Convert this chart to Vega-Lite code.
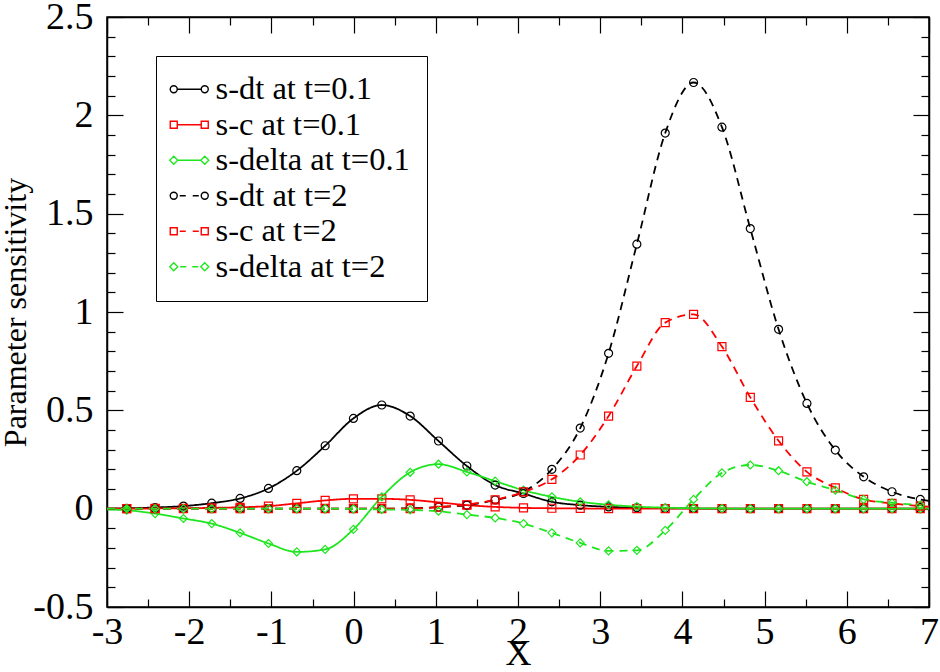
{
"$schema": "https://vega.github.io/schema/vega-lite/v6.json",
"width": 822, "height": 590,
"autosize": {"type": "none"},
"padding": {"left": 107, "top": 17, "right": 11, "bottom": 65},
"background": "white",
"config": {"view": {"stroke": "black", "strokeWidth": 1.5}, "font": "Liberation Serif, Times New Roman, serif"},
"data": {"values": [
{"s":"s-dt at t=0.1","t":"0.1","x":-3,"y":0,"m":0},
{"s":"s-dt at t=0.1","t":"0.1","x":-2.76,"y":0.002,"m":1},
{"s":"s-dt at t=0.1","t":"0.1","x":-2.415,"y":0.006,"m":1},
{"s":"s-dt at t=0.1","t":"0.1","x":-2.07,"y":0.013,"m":1},
{"s":"s-dt at t=0.1","t":"0.1","x":-1.726,"y":0.028,"m":1},
{"s":"s-dt at t=0.1","t":"0.1","x":-1.381,"y":0.052,"m":1},
{"s":"s-dt at t=0.1","t":"0.1","x":-1.036,"y":0.103,"m":1},
{"s":"s-dt at t=0.1","t":"0.1","x":-0.691,"y":0.193,"m":1},
{"s":"s-dt at t=0.1","t":"0.1","x":-0.346,"y":0.32,"m":1},
{"s":"s-dt at t=0.1","t":"0.1","x":-0.002,"y":0.459,"m":1},
{"s":"s-dt at t=0.1","t":"0.1","x":0.343,"y":0.527,"m":1},
{"s":"s-dt at t=0.1","t":"0.1","x":0.688,"y":0.471,"m":1},
{"s":"s-dt at t=0.1","t":"0.1","x":1.033,"y":0.344,"m":1},
{"s":"s-dt at t=0.1","t":"0.1","x":1.378,"y":0.217,"m":1},
{"s":"s-dt at t=0.1","t":"0.1","x":1.722,"y":0.12,"m":1},
{"s":"s-dt at t=0.1","t":"0.1","x":2.067,"y":0.077,"m":1},
{"s":"s-dt at t=0.1","t":"0.1","x":2.412,"y":0.035,"m":1},
{"s":"s-dt at t=0.1","t":"0.1","x":2.757,"y":0.018,"m":1},
{"s":"s-dt at t=0.1","t":"0.1","x":3.102,"y":0.009,"m":1},
{"s":"s-dt at t=0.1","t":"0.1","x":3.446,"y":0.005,"m":1},
{"s":"s-dt at t=0.1","t":"0.1","x":3.791,"y":0.002,"m":1},
{"s":"s-dt at t=0.1","t":"0.1","x":4.136,"y":0.001,"m":1},
{"s":"s-dt at t=0.1","t":"0.1","x":4.481,"y":0,"m":1},
{"s":"s-dt at t=0.1","t":"0.1","x":4.826,"y":0,"m":1},
{"s":"s-dt at t=0.1","t":"0.1","x":5.17,"y":0,"m":1},
{"s":"s-dt at t=0.1","t":"0.1","x":5.515,"y":0,"m":1},
{"s":"s-dt at t=0.1","t":"0.1","x":5.86,"y":0,"m":1},
{"s":"s-dt at t=0.1","t":"0.1","x":6.205,"y":0,"m":1},
{"s":"s-dt at t=0.1","t":"0.1","x":6.55,"y":0,"m":1},
{"s":"s-dt at t=0.1","t":"0.1","x":6.894,"y":0,"m":1},
{"s":"s-dt at t=0.1","t":"0.1","x":7,"y":0,"m":0},
{"s":"s-c at t=0.1","t":"0.1","x":-3,"y":0,"m":0},
{"s":"s-c at t=0.1","t":"0.1","x":-2.76,"y":0,"m":1},
{"s":"s-c at t=0.1","t":"0.1","x":-2.415,"y":0.001,"m":1},
{"s":"s-c at t=0.1","t":"0.1","x":-2.07,"y":0.002,"m":1},
{"s":"s-c at t=0.1","t":"0.1","x":-1.726,"y":0.004,"m":1},
{"s":"s-c at t=0.1","t":"0.1","x":-1.381,"y":0.007,"m":1},
{"s":"s-c at t=0.1","t":"0.1","x":-1.036,"y":0.013,"m":1},
{"s":"s-c at t=0.1","t":"0.1","x":-0.691,"y":0.027,"m":1},
{"s":"s-c at t=0.1","t":"0.1","x":-0.346,"y":0.042,"m":1},
{"s":"s-c at t=0.1","t":"0.1","x":-0.002,"y":0.05,"m":1},
{"s":"s-c at t=0.1","t":"0.1","x":0.343,"y":0.05,"m":1},
{"s":"s-c at t=0.1","t":"0.1","x":0.688,"y":0.045,"m":1},
{"s":"s-c at t=0.1","t":"0.1","x":1.033,"y":0.032,"m":1},
{"s":"s-c at t=0.1","t":"0.1","x":1.378,"y":0.018,"m":1},
{"s":"s-c at t=0.1","t":"0.1","x":1.722,"y":0.009,"m":1},
{"s":"s-c at t=0.1","t":"0.1","x":2.067,"y":0.004,"m":1},
{"s":"s-c at t=0.1","t":"0.1","x":2.412,"y":0.002,"m":1},
{"s":"s-c at t=0.1","t":"0.1","x":2.757,"y":0.001,"m":1},
{"s":"s-c at t=0.1","t":"0.1","x":3.102,"y":0,"m":1},
{"s":"s-c at t=0.1","t":"0.1","x":3.446,"y":0,"m":1},
{"s":"s-c at t=0.1","t":"0.1","x":3.791,"y":0,"m":1},
{"s":"s-c at t=0.1","t":"0.1","x":4.136,"y":0,"m":1},
{"s":"s-c at t=0.1","t":"0.1","x":4.481,"y":0,"m":1},
{"s":"s-c at t=0.1","t":"0.1","x":4.826,"y":0,"m":1},
{"s":"s-c at t=0.1","t":"0.1","x":5.17,"y":0,"m":1},
{"s":"s-c at t=0.1","t":"0.1","x":5.515,"y":0,"m":1},
{"s":"s-c at t=0.1","t":"0.1","x":5.86,"y":0,"m":1},
{"s":"s-c at t=0.1","t":"0.1","x":6.205,"y":0,"m":1},
{"s":"s-c at t=0.1","t":"0.1","x":6.55,"y":0,"m":1},
{"s":"s-c at t=0.1","t":"0.1","x":6.894,"y":0,"m":1},
{"s":"s-c at t=0.1","t":"0.1","x":7,"y":0,"m":0},
{"s":"s-delta at t=0.1","t":"0.1","x":-3,"y":-0.004,"m":0},
{"s":"s-delta at t=0.1","t":"0.1","x":-2.76,"y":-0.008,"m":1},
{"s":"s-delta at t=0.1","t":"0.1","x":-2.415,"y":-0.025,"m":1},
{"s":"s-delta at t=0.1","t":"0.1","x":-2.07,"y":-0.05,"m":1},
{"s":"s-delta at t=0.1","t":"0.1","x":-1.726,"y":-0.076,"m":1},
{"s":"s-delta at t=0.1","t":"0.1","x":-1.381,"y":-0.123,"m":1},
{"s":"s-delta at t=0.1","t":"0.1","x":-1.036,"y":-0.177,"m":1},
{"s":"s-delta at t=0.1","t":"0.1","x":-0.691,"y":-0.22,"m":1},
{"s":"s-delta at t=0.1","t":"0.1","x":-0.346,"y":-0.207,"m":1},
{"s":"s-delta at t=0.1","t":"0.1","x":-0.002,"y":-0.105,"m":1},
{"s":"s-delta at t=0.1","t":"0.1","x":0.343,"y":0.06,"m":1},
{"s":"s-delta at t=0.1","t":"0.1","x":0.688,"y":0.185,"m":1},
{"s":"s-delta at t=0.1","t":"0.1","x":1.033,"y":0.226,"m":1},
{"s":"s-delta at t=0.1","t":"0.1","x":1.378,"y":0.187,"m":1},
{"s":"s-delta at t=0.1","t":"0.1","x":1.722,"y":0.14,"m":1},
{"s":"s-delta at t=0.1","t":"0.1","x":2.067,"y":0.094,"m":1},
{"s":"s-delta at t=0.1","t":"0.1","x":2.412,"y":0.06,"m":1},
{"s":"s-delta at t=0.1","t":"0.1","x":2.757,"y":0.035,"m":1},
{"s":"s-delta at t=0.1","t":"0.1","x":3.102,"y":0.02,"m":1},
{"s":"s-delta at t=0.1","t":"0.1","x":3.446,"y":0.01,"m":1},
{"s":"s-delta at t=0.1","t":"0.1","x":3.791,"y":0.005,"m":1},
{"s":"s-delta at t=0.1","t":"0.1","x":4.136,"y":0.002,"m":1},
{"s":"s-delta at t=0.1","t":"0.1","x":4.481,"y":0.001,"m":1},
{"s":"s-delta at t=0.1","t":"0.1","x":4.826,"y":0,"m":1},
{"s":"s-delta at t=0.1","t":"0.1","x":5.17,"y":0,"m":1},
{"s":"s-delta at t=0.1","t":"0.1","x":5.515,"y":0,"m":1},
{"s":"s-delta at t=0.1","t":"0.1","x":5.86,"y":0,"m":1},
{"s":"s-delta at t=0.1","t":"0.1","x":6.205,"y":0,"m":1},
{"s":"s-delta at t=0.1","t":"0.1","x":6.55,"y":0,"m":1},
{"s":"s-delta at t=0.1","t":"0.1","x":6.894,"y":0,"m":1},
{"s":"s-delta at t=0.1","t":"0.1","x":7,"y":0,"m":0},
{"s":"s-dt at t=2","t":"2","x":-3,"y":0,"m":0},
{"s":"s-dt at t=2","t":"2","x":-2.76,"y":0,"m":1},
{"s":"s-dt at t=2","t":"2","x":-2.415,"y":0,"m":1},
{"s":"s-dt at t=2","t":"2","x":-2.07,"y":0,"m":1},
{"s":"s-dt at t=2","t":"2","x":-1.726,"y":0,"m":1},
{"s":"s-dt at t=2","t":"2","x":-1.381,"y":0,"m":1},
{"s":"s-dt at t=2","t":"2","x":-1.036,"y":0,"m":1},
{"s":"s-dt at t=2","t":"2","x":-0.691,"y":0,"m":1},
{"s":"s-dt at t=2","t":"2","x":-0.346,"y":0,"m":1},
{"s":"s-dt at t=2","t":"2","x":-0.002,"y":0,"m":1},
{"s":"s-dt at t=2","t":"2","x":0.343,"y":0,"m":1},
{"s":"s-dt at t=2","t":"2","x":0.688,"y":0.002,"m":1},
{"s":"s-dt at t=2","t":"2","x":1.033,"y":0.008,"m":1},
{"s":"s-dt at t=2","t":"2","x":1.378,"y":0.018,"m":1},
{"s":"s-dt at t=2","t":"2","x":1.722,"y":0.044,"m":1},
{"s":"s-dt at t=2","t":"2","x":2.067,"y":0.086,"m":1},
{"s":"s-dt at t=2","t":"2","x":2.412,"y":0.2,"m":1},
{"s":"s-dt at t=2","t":"2","x":2.757,"y":0.41,"m":1},
{"s":"s-dt at t=2","t":"2","x":3.102,"y":0.79,"m":1},
{"s":"s-dt at t=2","t":"2","x":3.446,"y":1.345,"m":1},
{"s":"s-dt at t=2","t":"2","x":3.791,"y":1.91,"m":1},
{"s":"s-dt at t=2","t":"2","x":4.136,"y":2.167,"m":1},
{"s":"s-dt at t=2","t":"2","x":4.481,"y":1.94,"m":1},
{"s":"s-dt at t=2","t":"2","x":4.826,"y":1.424,"m":1},
{"s":"s-dt at t=2","t":"2","x":5.17,"y":0.912,"m":1},
{"s":"s-dt at t=2","t":"2","x":5.515,"y":0.535,"m":1},
{"s":"s-dt at t=2","t":"2","x":5.86,"y":0.298,"m":1},
{"s":"s-dt at t=2","t":"2","x":6.205,"y":0.162,"m":1},
{"s":"s-dt at t=2","t":"2","x":6.55,"y":0.086,"m":1},
{"s":"s-dt at t=2","t":"2","x":6.894,"y":0.047,"m":1},
{"s":"s-dt at t=2","t":"2","x":7,"y":0.04,"m":0},
{"s":"s-c at t=2","t":"2","x":-3,"y":0,"m":0},
{"s":"s-c at t=2","t":"2","x":-2.76,"y":0,"m":1},
{"s":"s-c at t=2","t":"2","x":-2.415,"y":0,"m":1},
{"s":"s-c at t=2","t":"2","x":-2.07,"y":0,"m":1},
{"s":"s-c at t=2","t":"2","x":-1.726,"y":0,"m":1},
{"s":"s-c at t=2","t":"2","x":-1.381,"y":0,"m":1},
{"s":"s-c at t=2","t":"2","x":-1.036,"y":0,"m":1},
{"s":"s-c at t=2","t":"2","x":-0.691,"y":0,"m":1},
{"s":"s-c at t=2","t":"2","x":-0.346,"y":0,"m":1},
{"s":"s-c at t=2","t":"2","x":-0.002,"y":0,"m":1},
{"s":"s-c at t=2","t":"2","x":0.343,"y":0,"m":1},
{"s":"s-c at t=2","t":"2","x":0.688,"y":0,"m":1},
{"s":"s-c at t=2","t":"2","x":1.033,"y":0.008,"m":1},
{"s":"s-c at t=2","t":"2","x":1.378,"y":0.02,"m":1},
{"s":"s-c at t=2","t":"2","x":1.722,"y":0.045,"m":1},
{"s":"s-c at t=2","t":"2","x":2.067,"y":0.085,"m":1},
{"s":"s-c at t=2","t":"2","x":2.412,"y":0.149,"m":1},
{"s":"s-c at t=2","t":"2","x":2.757,"y":0.273,"m":1},
{"s":"s-c at t=2","t":"2","x":3.102,"y":0.471,"m":1},
{"s":"s-c at t=2","t":"2","x":3.446,"y":0.725,"m":1},
{"s":"s-c at t=2","t":"2","x":3.791,"y":0.946,"m":1},
{"s":"s-c at t=2","t":"2","x":4.136,"y":0.988,"m":1},
{"s":"s-c at t=2","t":"2","x":4.481,"y":0.824,"m":1},
{"s":"s-c at t=2","t":"2","x":4.826,"y":0.566,"m":1},
{"s":"s-c at t=2","t":"2","x":5.17,"y":0.345,"m":1},
{"s":"s-c at t=2","t":"2","x":5.515,"y":0.187,"m":1},
{"s":"s-c at t=2","t":"2","x":5.86,"y":0.106,"m":1},
{"s":"s-c at t=2","t":"2","x":6.205,"y":0.047,"m":1},
{"s":"s-c at t=2","t":"2","x":6.55,"y":0.027,"m":1},
{"s":"s-c at t=2","t":"2","x":6.894,"y":0.013,"m":1},
{"s":"s-c at t=2","t":"2","x":7,"y":0.01,"m":0},
{"s":"s-delta at t=2","t":"2","x":-3,"y":0,"m":0},
{"s":"s-delta at t=2","t":"2","x":-2.76,"y":0,"m":1},
{"s":"s-delta at t=2","t":"2","x":-2.415,"y":0,"m":1},
{"s":"s-delta at t=2","t":"2","x":-2.07,"y":0,"m":1},
{"s":"s-delta at t=2","t":"2","x":-1.726,"y":0,"m":1},
{"s":"s-delta at t=2","t":"2","x":-1.381,"y":0,"m":1},
{"s":"s-delta at t=2","t":"2","x":-1.036,"y":0,"m":1},
{"s":"s-delta at t=2","t":"2","x":-0.691,"y":0,"m":1},
{"s":"s-delta at t=2","t":"2","x":-0.346,"y":0,"m":1},
{"s":"s-delta at t=2","t":"2","x":-0.002,"y":-0.001,"m":1},
{"s":"s-delta at t=2","t":"2","x":0.343,"y":-0.004,"m":1},
{"s":"s-delta at t=2","t":"2","x":0.688,"y":-0.006,"m":1},
{"s":"s-delta at t=2","t":"2","x":1.033,"y":-0.013,"m":1},
{"s":"s-delta at t=2","t":"2","x":1.378,"y":-0.03,"m":1},
{"s":"s-delta at t=2","t":"2","x":1.722,"y":-0.047,"m":1},
{"s":"s-delta at t=2","t":"2","x":2.067,"y":-0.076,"m":1},
{"s":"s-delta at t=2","t":"2","x":2.412,"y":-0.123,"m":1},
{"s":"s-delta at t=2","t":"2","x":2.757,"y":-0.174,"m":1},
{"s":"s-delta at t=2","t":"2","x":3.102,"y":-0.215,"m":1},
{"s":"s-delta at t=2","t":"2","x":3.446,"y":-0.212,"m":1},
{"s":"s-delta at t=2","t":"2","x":3.791,"y":-0.11,"m":1},
{"s":"s-delta at t=2","t":"2","x":4.136,"y":0.047,"m":1},
{"s":"s-delta at t=2","t":"2","x":4.481,"y":0.182,"m":1},
{"s":"s-delta at t=2","t":"2","x":4.826,"y":0.222,"m":1},
{"s":"s-delta at t=2","t":"2","x":5.17,"y":0.193,"m":1},
{"s":"s-delta at t=2","t":"2","x":5.515,"y":0.137,"m":1},
{"s":"s-delta at t=2","t":"2","x":5.86,"y":0.094,"m":1},
{"s":"s-delta at t=2","t":"2","x":6.205,"y":0.047,"m":1},
{"s":"s-delta at t=2","t":"2","x":6.55,"y":0.03,"m":1},
{"s":"s-delta at t=2","t":"2","x":6.894,"y":0.018,"m":1},
{"s":"s-delta at t=2","t":"2","x":7,"y":0.015,"m":0}
]},
"layer": [
{
"mark": {"type": "line", "interpolate": "monotone", "strokeWidth": 1.8, "clip": true},
"encoding": {
"x": {"field": "x", "type": "quantitative", "scale": {"domain": [-3, 7], "nice": false, "zero": false},
 "axis": {"orient": "bottom", "values": [-3,-2.5,-2,-1.5,-1,-0.5,0,0.5,1,1.5,2,2.5,3,3.5,4,4.5,5,5.5,6,6.5,7],
  "tickSize": {"condition": {"test": "datum.value % 1 === 0", "value": -16}, "value": -8},
  "labelExpr": "datum.value % 1 === 0 ? '' + datum.value : ''",
  "title": "X", "grid": false, "labelFont": "Liberation Serif, Times New Roman, serif", "labelFontSize": 38, "labelColor": "black",
  "titleFont": "Liberation Serif, Times New Roman, serif", "titleFontSize": 36, "titleFontWeight": "normal", "titleColor": "black",
  "tickColor": "black", "tickWidth": 1.2, "domainColor": "black", "domainWidth": 1.5,
  "labelPadding": 22, "titlePadding": -23, "labelFlush": false, "labelOverlap": false}},
"y": {"field": "y", "type": "quantitative", "scale": {"domain": [-0.5, 2.5], "nice": false, "zero": false},
 "axis": {"orient": "left", "values": [-0.5,-0.4,-0.3,-0.2,-0.1,0,0.1,0.2,0.3,0.4,0.5,0.6,0.7,0.8,0.9,1,1.1,1.2,1.3,1.4,1.5,1.6,1.7,1.8,1.9,2,2.1,2.2,2.3,2.4,2.5],
  "tickSize": {"condition": {"test": "abs(datum.value*2 - round(datum.value*2)) < 0.001", "value": -16}, "value": -8},
  "labelExpr": "abs(datum.value*2 - round(datum.value*2)) < 0.001 ? '' + datum.value : ''",
  "title": "Parameter sensitivity", "grid": false, "labelFont": "Liberation Serif, Times New Roman, serif", "labelFontSize": 38, "labelColor": "black",
  "titleFont": "Liberation Serif, Times New Roman, serif", "titleFontSize": 32, "titleFontWeight": "normal", "titleColor": "black",
  "tickColor": "black", "tickWidth": 1.2, "domainColor": "black", "domainWidth": 1.5,
  "labelPadding": 30, "titlePadding": 0, "labelFlush": false, "labelOverlap": false}},
"color": {"field": "s", "type": "nominal",
 "scale": {"domain": ["s-dt at t=0.1","s-c at t=0.1","s-delta at t=0.1","s-dt at t=2","s-c at t=2","s-delta at t=2"],
  "range": ["#000000","#ff0000","#1ee61e","#000000","#ff0000","#1ee61e"]}, "legend": null},
"strokeDash": {"field": "t", "type": "nominal", "scale": {"domain": ["0.1","2"], "range": [[1,0],[8,6]]}, "legend": null}
}
},
{
"transform": [{"filter": "datum.m == 1"}],
"mark": {"type": "point", "filled": false, "strokeWidth": 1.2, "size": 64, "opacity": 1},
"encoding": {
"x": {"field": "x", "type": "quantitative", "scale": {"domain": [-3, 7], "nice": false, "zero": false},
 "axis": {"orient": "top", "values": [-3,-2.5,-2,-1.5,-1,-0.5,0,0.5,1,1.5,2,2.5,3,3.5,4,4.5,5,5.5,6,6.5,7],
  "tickSize": {"condition": {"test": "datum.value % 1 === 0", "value": -16}, "value": -8},
  "labels": false, "title": null, "grid": false, "tickColor": "black", "tickWidth": 1.2, "domainColor": "black", "domainWidth": 1.5}},
"y": {"field": "y", "type": "quantitative", "scale": {"domain": [-0.5, 2.5], "nice": false, "zero": false},
 "axis": {"orient": "right", "values": [-0.5,-0.4,-0.3,-0.2,-0.1,0,0.1,0.2,0.3,0.4,0.5,0.6,0.7,0.8,0.9,1,1.1,1.2,1.3,1.4,1.5,1.6,1.7,1.8,1.9,2,2.1,2.2,2.3,2.4,2.5],
  "tickSize": {"condition": {"test": "abs(datum.value*2 - round(datum.value*2)) < 0.001", "value": -16}, "value": -8},
  "labels": false, "title": null, "grid": false, "tickColor": "black", "tickWidth": 1.2, "domainColor": "black", "domainWidth": 1.5}},
"shape": {"field": "s", "type": "nominal",
 "scale": {"domain": ["s-dt at t=0.1","s-c at t=0.1","s-delta at t=0.1","s-dt at t=2","s-c at t=2","s-delta at t=2"],
  "range": ["circle","square","diamond","circle","square","diamond"]}, "legend": null},
"color": {"field": "s", "type": "nominal",
 "scale": {"domain": ["s-dt at t=0.1","s-c at t=0.1","s-delta at t=0.1","s-dt at t=2","s-c at t=2","s-delta at t=2"],
  "range": ["#000000","#ff0000","#1ee61e","#000000","#ff0000","#1ee61e"]},
 "legend": {"orient": "none", "legendX": 49, "legendY": 39, "title": null, "padding": 17,
  "strokeColor": "black", "fillColor": "white",
  "labelFont": "Liberation Serif, Times New Roman, serif", "labelFontSize": 32.5, "labelColor": "black", "labelOffset": 10, "labelLimit": 0,
  "symbolSize": 400, "symbolStrokeWidth": 1.4, "rowPadding": 2.5,
  "symbolType": {"expr": "['M-1.9,0A0.35,0.35 0 1 0 -1.2,0A0.35,0.35 0 1 0 -1.9,0ZM-1.2,0L1.2,0M1.2,0A0.35,0.35 0 1 0 1.9,0A0.35,0.35 0 1 0 1.2,0Z','M-1.9,-0.35L-1.2,-0.35L-1.2,0.35L-1.9,0.35ZM-1.2,0L1.2,0M1.2,-0.35L1.9,-0.35L1.9,0.35L1.2,0.35Z','M-1.95,0L-1.55,-0.4L-1.15,0L-1.55,0.4ZM-1.15,0L1.15,0M1.15,0L1.55,-0.4L1.95,0L1.55,0.4Z','M-1.9,0A0.35,0.35 0 1 0 -1.2,0A0.35,0.35 0 1 0 -1.9,0ZM-0.95,0L-0.35,0M0.35,0L0.95,0M1.2,0A0.35,0.35 0 1 0 1.9,0A0.35,0.35 0 1 0 1.2,0Z','M-1.9,-0.35L-1.2,-0.35L-1.2,0.35L-1.9,0.35ZM-0.95,0L-0.35,0M0.35,0L0.95,0M1.2,-0.35L1.9,-0.35L1.9,0.35L1.2,0.35Z','M-1.95,0L-1.55,-0.4L-1.15,0L-1.55,0.4ZM-0.9,0L-0.3,0M0.3,0L0.9,0M1.15,0L1.55,-0.4L1.95,0L1.55,0.4Z'][indexof(['s-dt at t=0.1','s-c at t=0.1','s-delta at t=0.1','s-dt at t=2','s-c at t=2','s-delta at t=2'], datum.value)]"},
  "encode": {"symbols": {"update": {
   "fill": {"value": "transparent"},
   "opacity": {"value": 1}
  }}}}
}
}
}
],
"resolve": {"axis": {"x": "independent", "y": "independent"}, "legend": {"color": "independent"}}
}
